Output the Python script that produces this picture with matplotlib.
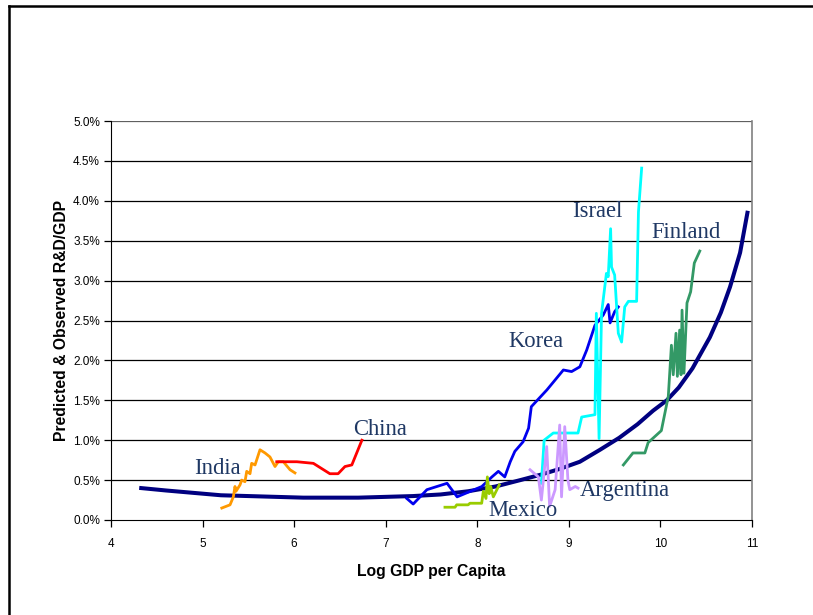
import matplotlib
matplotlib.use("Agg")
import matplotlib.pyplot as plt
from matplotlib.lines import Line2D
from matplotlib.ticker import PercentFormatter, MultipleLocator

# predicted R&D/GDP curve (x = log GDP per capita, y = percent)
pred_x = [4.33, 4.6, 4.9, 5.2, 5.5, 5.8, 6.1, 6.4, 6.7, 7.0, 7.3, 7.6, 7.9, 8.2,
          8.47, 8.7, 8.9, 9.12, 9.34, 9.55, 9.75, 9.92, 10.07, 10.2, 10.35,
          10.54, 10.66, 10.76, 10.87, 10.95]
pred_y = [0.40, 0.37, 0.34, 0.31, 0.30, 0.29, 0.28, 0.28, 0.28, 0.29, 0.30, 0.32,
          0.36, 0.42, 0.50, 0.57, 0.64, 0.73, 0.88, 1.03, 1.20, 1.37, 1.50,
          1.66, 1.90, 2.29, 2.60, 2.92, 3.35, 3.85]

india_x = [5.21, 5.30, 5.336, 5.354, 5.365, 5.409, 5.427, 5.463, 5.482, 5.518,
           5.536, 5.573, 5.627, 5.682, 5.736, 5.791, 5.827, 5.882, 5.955, 6.009]
india_y = [0.15, 0.19, 0.29, 0.42, 0.36, 0.44, 0.50, 0.48, 0.61, 0.58,
           0.71, 0.69, 0.88, 0.84, 0.79, 0.67, 0.73, 0.73, 0.63, 0.59]

china_x = [5.81, 6.03, 6.21, 6.39, 6.48, 6.555, 6.63, 6.74]
china_y = [0.73, 0.73, 0.71, 0.58, 0.58, 0.67, 0.69, 1.00]

korea_x = [7.23, 7.30, 7.45, 7.67, 7.78, 8.05, 8.16, 8.23, 8.30, 8.36, 8.41,
           8.50, 8.56, 8.59, 8.76, 8.94, 9.03, 9.12, 9.195, 9.285, 9.376,
           9.43, 9.45, 9.50, 9.54]
korea_y = [0.27, 0.20, 0.38, 0.46, 0.29, 0.42, 0.54, 0.61, 0.54, 0.73, 0.86,
           0.98, 1.15, 1.42, 1.63, 1.88, 1.86, 1.92, 2.13, 2.44, 2.57,
           2.70, 2.47, 2.61, 2.67]

israel_x = [8.70, 8.73, 8.83, 9.10, 9.14, 9.285, 9.30, 9.33, 9.357, 9.41, 9.43,
            9.456, 9.466, 9.50, 9.54, 9.576, 9.61, 9.65, 9.74, 9.76, 9.795]
israel_y = [0.46, 1.00, 1.09, 1.09, 1.29, 1.32, 2.59, 1.02, 2.59, 3.09, 3.05,
            3.65, 3.17, 3.07, 2.34, 2.23, 2.67, 2.74, 2.74, 3.86, 4.41]

finland_x = [9.595, 9.70, 9.83, 9.866, 10.01, 10.086, 10.12, 10.14, 10.17,
             10.185, 10.21, 10.225, 10.236, 10.257, 10.29, 10.33, 10.37, 10.43]
finland_y = [0.69, 0.84, 0.84, 0.97, 1.12, 1.55, 2.19, 1.82, 2.34,
             1.80, 2.38, 1.82, 2.63, 1.84, 2.72, 2.86, 3.22, 3.37]

argentina_x = [8.576, 8.667, 8.70, 8.758, 8.79, 8.85, 8.90, 8.92, 8.955, 8.99,
               9.01, 9.07, 9.10]
argentina_y = [0.63, 0.54, 0.25, 0.92, 0.17, 0.38, 1.19, 0.29, 1.17, 0.50,
               0.38, 0.42, 0.40]

mexico_x = [7.647, 7.757, 7.775, 7.90, 7.92, 8.048, 8.066, 8.095, 8.11, 8.13,
            8.146, 8.175, 8.24]
mexico_y = [0.16, 0.16, 0.19, 0.19, 0.21, 0.21, 0.36, 0.27, 0.54, 0.33,
            0.42, 0.29, 0.44]

labels = ["India", "China", "Korea", "Israel", "Finland", "Argentina", "Mexico"]
label_x = [4.906, 6.643, 8.335, 9.034, 9.897, 9.122, 8.117]
label_y = [0.65, 1.13, 2.24, 3.86, 3.60, 0.365, 0.125]

fig = plt.figure(figsize=(8.13, 6.15), dpi=100)
ax = fig.add_axes([111 / 813, 1 - 520 / 615, 641 / 813, 399 / 615])

for y in [0.5 * i for i in range(1, 11)]:
    ax.axhline(y, color="#606060" if y == 5.0 else "black", lw=0.9, zorder=0)

ax.plot(pred_x, pred_y, color="#000080", lw=2.9, zorder=2)
ax.plot(india_x, india_y, color="#FF9900", lw=2.0, zorder=3)
ax.plot(china_x, china_y, color="#FF0000", lw=2.0, zorder=3)
ax.plot(korea_x, korea_y, color="#0000EE", lw=2.0, zorder=3)
ax.plot(israel_x, israel_y, color="#00FFFF", lw=2.0, zorder=3)
ax.plot(finland_x, finland_y, color="#339966", lw=2.0, zorder=3)
ax.plot(argentina_x, argentina_y, color="#CC99FF", lw=2.0, zorder=3)
ax.plot(mexico_x, mexico_y, color="#99CC00", lw=2.0, zorder=3)

for name, lx, ly in zip(labels, label_x, label_y):
    ax.text(lx, ly, name, family="Liberation Serif", fontsize=16.3,
            color="#1F3864", ha="left", va="center", zorder=4)

ax.set_xlim(4, 11)
ax.set_ylim(0, 5)
ax.xaxis.set_major_locator(MultipleLocator(1))
ax.yaxis.set_major_locator(MultipleLocator(0.5))
ax.yaxis.set_major_formatter(PercentFormatter(xmax=100, decimals=1))
ax.tick_params(labelsize=8.5, length=5, width=0.9, colors="black")
ax.tick_params(axis="x", pad=8)
ax.tick_params(axis="y", pad=3)
for lab in ax.get_xticklabels() + ax.get_yticklabels():
    lab.set_family("Liberation Sans")

ax.spines["left"].set_color("black")
ax.spines["bottom"].set_color("black")
ax.spines["top"].set_visible(False)
ax.spines["right"].set_color("#808080")
ax.spines["right"].set_linewidth(1.2)

ax.set_xlabel("Log GDP per Capita", family="Liberation Sans", fontsize=11.3,
              fontweight="bold", labelpad=10)
ax.set_ylabel("Predicted & Observed R&D/GDP", family="Liberation Sans",
              fontsize=11.3, fontweight="bold", labelpad=3)

# outer frame (left and top edges visible)
fig.add_artist(Line2D([9 / 813, 9 / 813], [0, 1 - 6 / 615], color="black", lw=1.8))
fig.add_artist(Line2D([9 / 813, 1], [1 - 6 / 615, 1 - 6 / 615], color="black", lw=1.8))

fig.savefig("out.png", dpi=100)
